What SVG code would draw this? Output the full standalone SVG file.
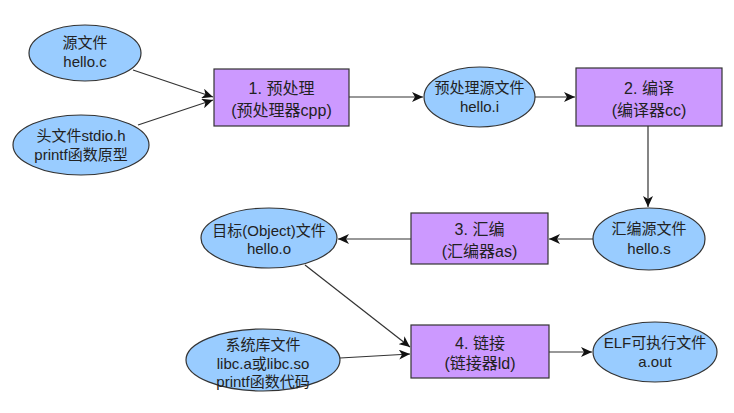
<svg xmlns="http://www.w3.org/2000/svg" width="734" height="413" viewBox="0 0 734 413">
<style>
.ell{fill:#99ccff;stroke:#333;stroke-width:1.2}
.box{fill:#cc99ff;stroke:#333;stroke-width:1.2}
.t{font-family:"Liberation Sans","Noto Sans CJK SC",sans-serif;font-size:15px;fill:#222;text-anchor:middle}
.b{font-size:16px}
.c line{stroke:#333;stroke-width:1.2;marker-end:url(#ah)}
</style>
<defs>
<marker id="ah" markerWidth="12" markerHeight="10" refX="11" refY="5" orient="auto" markerUnits="userSpaceOnUse">
<path d="M0,0 L11,5 L0,10 L3,5 Z" fill="#111"/>
</marker>
</defs>
<rect width="734" height="413" fill="#fff"/>
<g class="c">
<line x1="133" y1="70" x2="213" y2="97"/>
<line x1="138" y1="125" x2="213" y2="100"/>
<line x1="349" y1="97" x2="423" y2="97"/>
<line x1="535" y1="97" x2="575" y2="97"/>
<line x1="648" y1="126" x2="648" y2="207"/>
<line x1="593" y1="239" x2="549" y2="239"/>
<line x1="411" y1="239" x2="338" y2="239"/>
<line x1="305" y1="265" x2="410" y2="347"/>
<line x1="340" y1="358" x2="410" y2="354"/>
<line x1="549" y1="352" x2="592" y2="352"/>
</g>
<g id="n1"><ellipse class="ell" cx="85" cy="53" rx="56" ry="28"/><text class="t" x="85" y="48">源文件</text><text class="t" x="85" y="67">hello.c</text></g>
<g id="n2"><ellipse class="ell" cx="81" cy="145" rx="68" ry="30"/><text class="t" x="81" y="141">头文件stdio.h</text><text class="t" x="81" y="160">printf函数原型</text></g>
<g id="p1"><rect class="box" x="214" y="69" width="135" height="57"/><text class="t b" x="281.5" y="94">1. 预处理</text><text class="t b" x="281.5" y="116">(预处理器cpp)</text></g>
<g id="n3"><ellipse class="ell" cx="479.5" cy="97" rx="55.5" ry="30"/><text class="t" x="479.5" y="93">预处理源文件</text><text class="t" x="479.5" y="112">hello.i</text></g>
<g id="p2"><rect class="box" x="576" y="68" width="146" height="58"/><text class="t b" x="649" y="94">2. 编译</text><text class="t b" x="649" y="116">(编译器cc)</text></g>
<g id="n4"><ellipse class="ell" cx="649" cy="239" rx="56" ry="31"/><text class="t" x="649" y="234">汇编源文件</text><text class="t" x="649" y="254">hello.s</text></g>
<g id="p3"><rect class="box" x="411" y="213" width="137" height="51"/><text class="t b" x="479.5" y="235">3. 汇编</text><text class="t b" x="479.5" y="257">(汇编器as)</text></g>
<g id="n5"><ellipse class="ell" cx="269" cy="238" rx="68" ry="30"/><text class="t" x="269" y="236">目标(Object)文件</text><text class="t" x="269" y="254">hello.o</text></g>
<g id="p4"><rect class="box" x="411" y="325" width="138" height="53"/><text class="t b" x="480" y="349">4. 链接</text><text class="t b" x="480" y="369">(链接器ld)</text></g>
<g id="n6"><ellipse class="ell" cx="263" cy="360" rx="77" ry="31"/><text class="t" x="263" y="350">系统库文件</text><text class="t" x="263" y="369">libc.a或libc.so</text><text class="t" x="263" y="387">printf函数代码</text></g>
<g id="n7"><ellipse class="ell" cx="655" cy="352" rx="62" ry="30"/><text class="t" x="655" y="348">ELF可执行文件</text><text class="t" x="655" y="367">a.out</text></g>
</svg>
